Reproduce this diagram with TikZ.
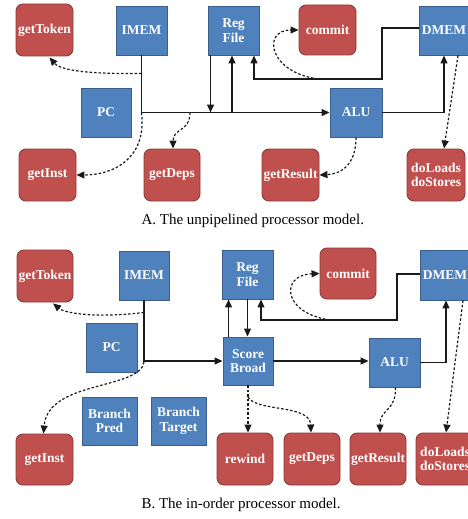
\documentclass[tikz,border=0pt]{standalone}
\usepackage{fontspec}
\setmainfont{Liberation Serif}
\usetikzlibrary{arrows.meta,calc}
\definecolor{bfill}{HTML}{4F81BD}
\definecolor{bline}{HTML}{3A5F8B}
\definecolor{rfill}{HTML}{C0504D}
\definecolor{rline}{HTML}{8E3A38}
\definecolor{ink}{HTML}{1A1A1A}
\begin{document}
\begin{tikzpicture}[x=1pt,y=-1pt,
  bbox/.style={draw=bline, fill=bfill, line width=0.9pt, text=white, align=center,
    inner sep=0pt, font=\bfseries\fontsize{13.5}{14.5}\selectfont},
  rbox/.style={bbox, draw=rline, fill=rfill, rounded corners=7pt},
  arr/.style={-{Triangle[length=8pt,width=7pt]}, line width=1.2pt, draw=ink},
  dot/.style={arr, dash pattern=on 2.5pt off 2pt},
  captext/.style={font=\fontsize{15}{17}\selectfont, anchor=west}]
\useasboundingbox (0,0) rectangle (468,519);
\clip (0,0) rectangle (468,519);
% ---------------- Part A ----------------
\node[rbox, minimum width=57pt, minimum height=52pt] (getTokenA) at (44.5,30) {getToken};
\node[bbox, minimum width=51pt, minimum height=49pt] (imemA) at (141.5,30.5) {IMEM};
\node[bbox, minimum width=51pt, minimum height=49pt] (regA) at (233.5,30.5) {Reg\\File};
\node[rbox, minimum width=57pt, minimum height=50pt] (commitA) at (327.5,30) {commit};
\node[bbox, minimum width=50pt, minimum height=49pt] (dmemA) at (444,30.5) {DMEM};
\node[bbox, minimum width=50pt, minimum height=49pt] (pcA) at (106,112.5) {PC};
\node[bbox, minimum width=52pt, minimum height=49pt] (aluA) at (356,112.5) {ALU};
\node[rbox, minimum width=57pt, minimum height=52pt] (getInstA) at (47.5,175) {getInst};
\node[rbox, minimum width=56pt, minimum height=52pt] (getDepsA) at (172,175) {getDeps};
\node[rbox, minimum width=57pt, minimum height=52pt] (getResultA) at (290.5,175) {getResult};
\node[rbox, minimum width=58pt, minimum height=52pt] (doLoadsA) at (436,175) {doLoads\\doStores};
\node[captext] (capA) at (138,221) {A. The unpipelined processor model.};

\coordinate (jA) at (imemA.south |- aluA.west);
\coordinate (tA) at ($(imemA.south)+(0,18)$);
\coordinate (dA) at (190,112.5);
\coordinate (rdA) at ($(regA.south west)+(3,0)$);
\coordinate (ruA) at ($(regA.south)+(-1.5,0)$);
\coordinate (mA1) at (382,28);
\coordinate (mA2) at (382,79);
\coordinate (mA3) at (254,79);
\coordinate (cA) at (318,79);
\draw[arr] (imemA.south) -- (jA) -- (aluA.west);
\draw[arr] (rdA) -- (rdA |- aluA.west);
\draw[arr] (ruA |- aluA.west) -- (ruA);
\draw[arr] (aluA.east) -| (dmemA.south);
\draw[arr] (dmemA.west |- mA1) -- (mA1) -- (mA2) -- (mA3) -- (mA3 |- regA.south);
\draw[dot] (tA) .. controls (100,74) and (62,72) .. ($(getTokenA.south)+(5,1)$);
\draw[dot] (jA) .. controls (147,160) and (112,175) .. (getInstA.east);
\draw[dot] (dA) .. controls (190,132) and (173,128) .. ($(getDepsA.north)+(1,0)$);
\draw[dot] (cA) .. controls (268,72) and (262,30) .. (commitA.west);
\draw[dot] (aluA.south) .. controls (356,166) and (340,174) .. (getResultA.east);
\draw[dot] ($(dmemA.south)+(14,0)$) -- ($(doLoadsA.north)+(8,0)$);

% ---------------- Part B ----------------
\node[rbox, minimum width=56pt, minimum height=52pt] (getTokenB) at (45,276) {getToken};
\node[bbox, minimum width=50pt, minimum height=49pt] (imemB) at (144,275.5) {IMEM};
\node[bbox, minimum width=51pt, minimum height=49pt] (regB) at (247.5,274.5) {Reg\\File};
\node[rbox, minimum width=56pt, minimum height=51pt] (commitB) at (348,273.5) {commit};
\node[bbox, minimum width=50pt, minimum height=50pt] (dmemB) at (445,275) {DMEM};
\node[bbox, minimum width=51pt, minimum height=49pt] (pcB) at (111.5,347.5) {PC};
\node[bbox, minimum width=50pt, minimum height=48pt] (sbB) at (248,361) {Score\\Broad};
\node[bbox, minimum width=51pt, minimum height=49pt] (aluB) at (394.5,362.5) {ALU};
\node[bbox, minimum width=55pt, minimum height=48pt] (bpB) at (109.5,421) {Branch\\Pred};
\node[bbox, minimum width=55pt, minimum height=48pt] (btB) at (178.5,421) {Branch\\Target};
\node[rbox, minimum width=57pt, minimum height=51pt] (getInstB) at (44.5,459.5) {getInst};
\node[rbox, minimum width=56pt, minimum height=52pt] (rewindB) at (245,459) {rewind};
\node[rbox, minimum width=56pt, minimum height=52pt] (getDepsB) at (312,459) {getDeps};
\node[rbox, minimum width=56pt, minimum height=52pt] (getResultB) at (378,459) {getResult};
\node[rbox, minimum width=58pt, minimum height=52pt] (doLoadsB) at (445,459) {doLoads\\doStores};
\node[captext] (capB) at (138,505) {B. The in-order processor model.};

\coordinate (jB) at (imemB.south |- sbB.west);
\coordinate (tB) at ($(imemB.south)+(0,12)$);
\coordinate (suB) at ($(sbB.north west)+(6,0)$);
\coordinate (mB1) at (397,274);
\coordinate (mB2) at (397,320);
\coordinate (mB3) at (261,320);
\coordinate (cB) at (330,320);
\coordinate (dB) at (248,397);
\draw[arr] (imemB.south) -- (jB) -- (sbB.west);
\draw[arr] (suB) -- (suB |- regB.south);
\draw[arr] (regB.south) -- (regB.south |- sbB.north);
\draw[arr] (sbB.east) -- (sbB.east -| aluB.west);
\draw[arr] (aluB.east) -| ($(dmemB.south)+(1,0)$);
\draw[arr] (dmemB.west |- mB1) -- (mB1) -- (mB2) -- (mB3) -- (mB3 |- regB.south);
\draw[dot] (tB) .. controls (100,318) and (66,314) .. ($(getTokenB.south)+(8,1)$);
\draw[dot] ($(jB)+(0,1)$) .. controls (140,390) and (48,380) .. ($(getInstB.north)+(-1,0)$);
\draw[dot] (cB) .. controls (282,313) and (280,275) .. (commitB.west);
\draw[dot] (sbB.south) -- (sbB.south |- rewindB.north);
\draw[dot] (dB) .. controls (256,412) and (310,404) .. ($(getDepsB.north)+(-1,0)$);
\draw[dot] ($(aluB.south)+(1,0)$) .. controls (396,412) and (380,408) .. ($(getResultB.north)+(2,0)$);
\draw[dot] ($(dmemB.south)+(18,0)$) -- ($(doLoadsB.north)+(1,0)$);
\end{tikzpicture}
\end{document}
